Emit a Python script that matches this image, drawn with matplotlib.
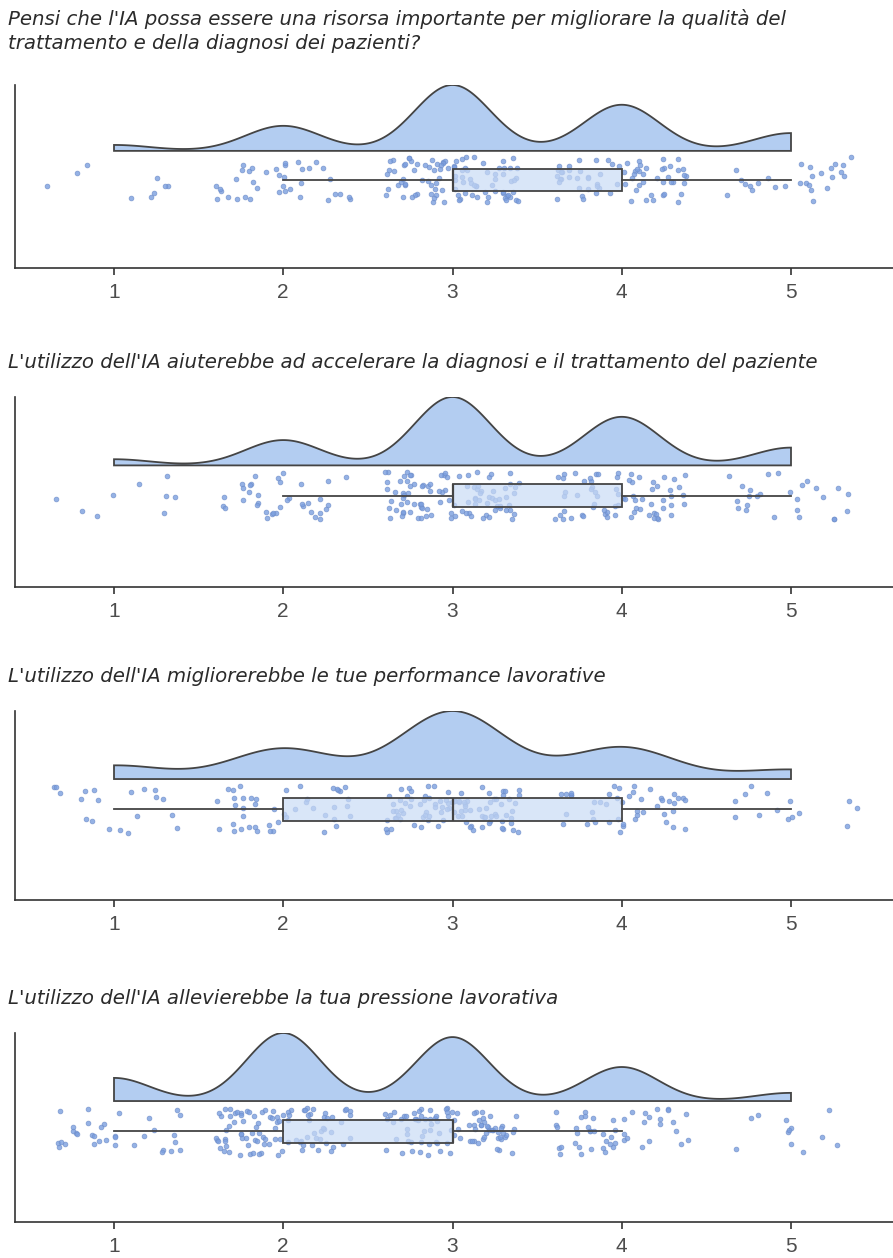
import numpy as np
import matplotlib
matplotlib.use("Agg")
import matplotlib.pyplot as plt

plt.rcParams['font.family'] = ['Liberation Sans', 'DejaVu Sans']

# answers on a 1..5 scale, number of respondents per level
levels = [1, 2, 3, 4, 5]
titles = [
    "Pensi che l'IA possa essere una risorsa importante per migliorare la qualità del\ntrattamento e della diagnosi dei pazienti?",
    "L'utilizzo dell'IA aiuterebbe ad accelerare la diagnosi e il trattamento del paziente",
    "L'utilizzo dell'IA migliorerebbe le tue performance lavorative",
    "L'utilizzo dell'IA allevierebbe la tua pressione lavorativa",
]
counts_q1 = [9, 38, 100, 70, 27]
counts_q2 = [9, 37, 100, 71, 26]
counts_q3 = [20, 45, 100, 47, 14]
counts_q4 = [34, 100, 94, 50, 12]
all_counts = [counts_q1, counts_q2, counts_q3, counts_q4]

slab_col = '#b3cdf1'
box_col = '#c9dbf6'
pt_col = '#7b9fdf'
line_col = '#444444'

W, H = 893, 1258
fig = plt.figure(figsize=(W / 100, H / 100), dpi=100)

# axes top/bottom in pixels, title y in pixels
panels = [(85, 268, 31), (397, 587, 362), (711, 900, 677), (1033, 1222, 998)]

rng = np.random.default_rng(7)

for (top, bot, ty), counts, title in zip(panels, all_counts, titles):
    ax = fig.add_axes([15 / W, 1 - bot / H, 1 - 15 / W, (bot - top) / H])
    data = np.repeat(levels, counts).astype(float)
    n = len(data)

    # jittered raw points
    xj = data + rng.uniform(-0.4, 0.4, n)
    yj = 0.48 + rng.uniform(-0.125, 0.125, n)
    ax.scatter(xj, yj, s=12, color=pt_col, edgecolor='#6d8cc8', linewidth=0.5,
               alpha=0.8, zorder=2)

    # half density (nrd0 bandwidth)
    q75, q25 = np.percentile(data, [75, 25])
    bw = 0.9 * min(data.std(ddof=1), (q75 - q25) / 1.34) * n ** -0.2
    grid = np.linspace(data.min(), data.max(), 400)
    dens = np.exp(-0.5 * ((grid[:, None] - data[None, :]) / bw) ** 2).sum(axis=1)
    dens = dens / dens.max() * 0.36
    base = 0.64
    xs = np.concatenate([[grid[0]], grid, [grid[-1], grid[0]]])
    ys = np.concatenate([[base], base + dens, [base, base]])
    ax.fill(xs, ys, facecolor=slab_col, edgecolor=line_col, linewidth=1.3, zorder=3)

    # box
    ax.boxplot(data, vert=False, positions=[0.48], widths=0.12, whis=1.5,
               showfliers=False, patch_artist=True, manage_ticks=False,
               boxprops=dict(facecolor=box_col + 'b0', edgecolor=line_col, linewidth=1.3),
               medianprops=dict(color=line_col, linewidth=1.6),
               whiskerprops=dict(color=line_col, linewidth=1.3),
               capprops=dict(linewidth=0), zorder=4)

    ax.set_xlim(1 - 99 / 169.25, 5 + 102 / 169.25)
    ax.set_ylim(0, 1)
    ax.set_xticks(levels)
    ax.set_yticks([])
    for s in ['top', 'right']:
        ax.spines[s].set_visible(False)
    for s in ['left', 'bottom']:
        ax.spines[s].set_color('#333333')
        ax.spines[s].set_linewidth(1.2)
    ax.tick_params(axis='x', length=5, width=1.2, color='#333333', pad=6,
                   labelsize=15, labelcolor='#4d4d4d')

    fig.text(8 / W, 1 - ty / H, title, ha='left', va='center', fontsize=14.2,
             style='italic', color='#2b2b2b', linespacing=1.3,
             family=['DejaVu Sans'])

fig.savefig('out.png', dpi=100)
